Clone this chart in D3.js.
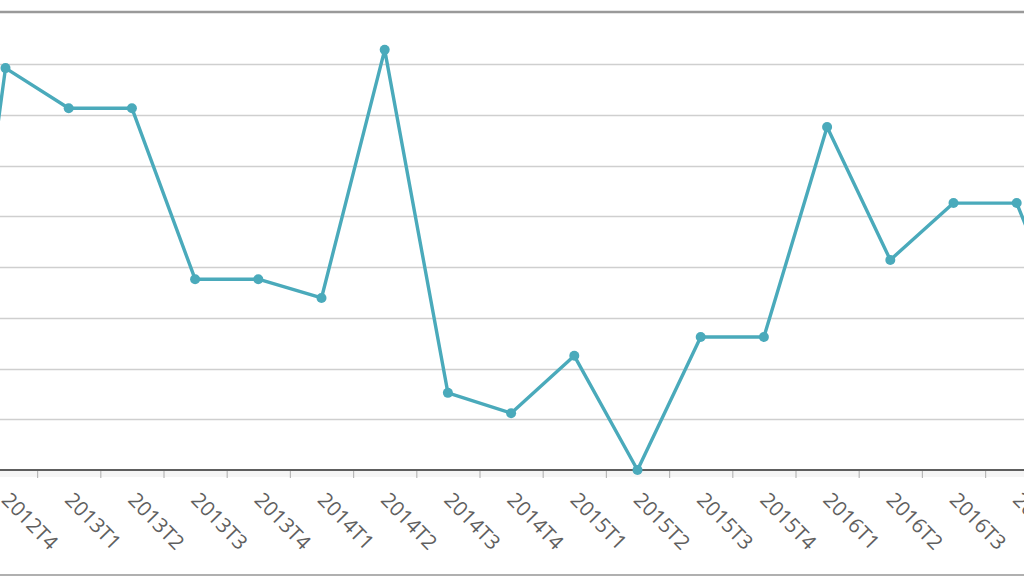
<!DOCTYPE html>
<html>
<head>
<meta charset="utf-8">
<script src="https://cdn.jsdelivr.net/npm/d3@7"></script>
<style>
  html, body { margin: 0; padding: 0; background: #fff; overflow: hidden; }
  svg { display: block; }
</style>
</head>
<body>
<svg id="chart" width="1024" height="576"></svg>
<script>
// Quarter categories (first and last lie just outside the visible frame)
const categories = ["2012T3","2012T4","2013T1","2013T2","2013T3","2013T4","2014T1","2014T2",
  "2014T3","2014T4","2015T1","2015T2","2015T3","2015T4","2016T1","2016T2","2016T3","2016T4","2017T1"];
// Values (no y labels visible; arbitrary units 0–9)
const values = [-1.3, 7.92, 7.13, 7.13, 3.76, 3.76, 3.39, 8.28, 1.52, 1.12, 2.25, 0.0,
  2.62, 2.62, 6.76, 4.14, 5.26, 5.26, 2.16];
const gridValues = [1, 2, 3, 4, 5, 6, 7, 8];

const W = 1024, H = 576;
const svg = d3.select("#chart");
const color = "#4aaabb";

const step = 63.2;
const firstCenter = 5.5 - step;
const x = d3.scaleBand()
  .domain(categories)
  .range([firstCenter - step / 2, firstCenter - step / 2 + step * categories.length])
  .padding(0);
const cx = d => x(d) + x.bandwidth() / 2;

const y = d3.scaleLinear().domain([0, 9]).range([470, 13.3]);

// clip to visible plot area
svg.append("defs").append("clipPath").attr("id", "plotClip")
  .append("rect").attr("x", 0).attr("y", 12).attr("width", W).attr("height", 470 - 12 + 1);

// gridlines
svg.append("g")
  .selectAll("line").data(gridValues).join("line")
  .attr("x1", 0).attr("x2", W)
  .attr("y1", d => Math.round(y(d)) + 0.5).attr("y2", d => Math.round(y(d)) + 0.5)
  .attr("stroke", "#cfcfcf").attr("stroke-width", 1.3);

// top frame line
svg.append("line").attr("x1", 0).attr("x2", W).attr("y1", 12).attr("y2", 12)
  .attr("stroke", "#9a9a9a").attr("stroke-width", 2.5);
// bottom frame line
svg.append("line").attr("x1", 0).attr("x2", W).attr("y1", 575).attr("y2", 575)
  .attr("stroke", "#b0b0b0").attr("stroke-width", 2);

// x axis
const xAxis = d3.axisBottom(x).tickSize(0).tickFormat("");
const gx = svg.append("g").attr("transform", "translate(0,470)").call(xAxis);
gx.select(".domain").remove();
svg.append("rect").attr("x", 0).attr("y", 471).attr("width", W).attr("height", 6)
  .attr("fill", "#eeeeee").attr("opacity", 0.6);
// tick marks at band boundaries
svg.append("g").selectAll("line").data(categories).join("line")
  .attr("x1", d => x(d) + 0.5).attr("x2", d => x(d) + 0.5)
  .attr("y1", 471).attr("y2", 478)
  .attr("stroke", "#b8b8b8").attr("stroke-width", 1.2);
svg.append("line").attr("x1", 0).attr("x2", W).attr("y1", 470).attr("y2", 470)
  .attr("stroke", "#5e5e5e").attr("stroke-width", 2);

// labels
svg.append("g").selectAll("text").data(categories).join("text")
  .attr("transform", d => `translate(${cx(d) - 5},${501}) rotate(46)`)
  .attr("text-anchor", "start")
  .attr("font-family", "'Open Sans', sans-serif")
  .attr("font-size", 20.5)
  .attr("fill", "#5f5f5f")
  .text(d => d);

// line + markers
const data = categories.map((c, i) => ({ c, v: values[i] }));
const plot = svg.append("g").attr("clip-path", "url(#plotClip)");
plot.append("path").datum(data)
  .attr("fill", "none").attr("stroke", color).attr("stroke-width", 3.4)
  .attr("stroke-linejoin", "round")
  .attr("d", d3.line().x(d => cx(d.c)).y(d => y(d.v)));
svg.append("g").selectAll("circle").data(data).join("circle")
  .attr("cx", d => cx(d.c)).attr("cy", d => y(d.v)).attr("r", 5)
  .attr("fill", color);
</script>
</body>
</html>
